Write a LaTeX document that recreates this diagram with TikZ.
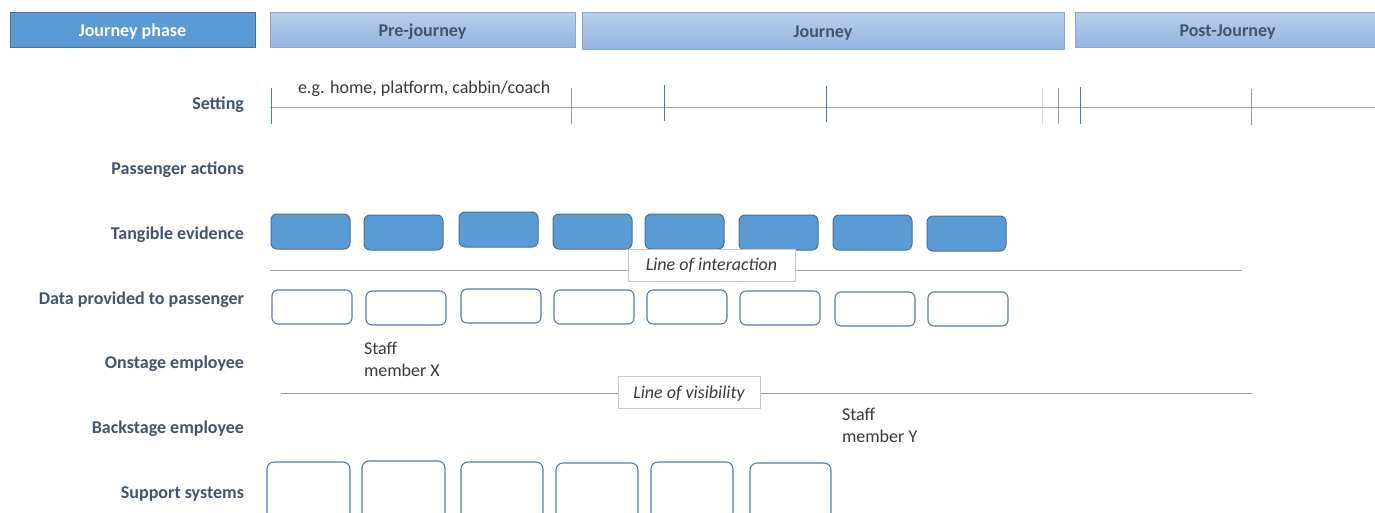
\documentclass[tikz,border=0pt]{standalone}
\usepackage{fontspec}
\setmainfont{Carlito}
\begin{document}
\begin{tikzpicture}[x=1pt,y=-1pt,
  every node/.style={inner sep=0pt, outer sep=0pt},
  phasebox/.style={draw=phaseborder, line width=0.8pt, top color=phasetop, bottom color=phasebot, anchor=north west, font=\fontsize{18}{21}\selectfont\bfseries, text=slate, text height=15pt, text depth=1pt},
  rowlabel/.style={anchor=east, font=\fontsize{18}{21}\selectfont\bfseries, text=slate, text height=12pt, text depth=3pt},
  tevbox/.style={draw=tevborder, fill=tevfill, line width=1pt, rounded corners=6pt, minimum width=79pt, minimum height=35pt, anchor=north west},
  databox/.style={draw=databorder, fill=white, line width=1.1pt, rounded corners=6pt, minimum width=80pt, minimum height=34pt, anchor=north west},
  supbox/.style={draw=databorder, fill=white, line width=1.1pt, rounded corners=7pt, minimum width=82pt, minimum height=80pt, anchor=north west},
  linelabel/.style={draw=lightgray, fill=white, line width=0.8pt, font=\fontsize{18}{21}\selectfont\itshape, text=darktext, anchor=north west, text height=12pt, text depth=2pt},
  plaintext/.style={font=\fontsize{18}{22}\selectfont, text=darktext, align=left, anchor=north west},
  sepline/.style={draw=linegray, line width=1pt}
]
\definecolor{slate}{HTML}{44546A}
\definecolor{darktext}{HTML}{3B3B3B}
\definecolor{phasetop}{HTML}{B7CFEB}
\definecolor{phasebot}{HTML}{92B5E2}
\definecolor{phaseborder}{HTML}{8FA8C6}
\definecolor{tevfill}{HTML}{5B9BD5}
\definecolor{tevborder}{HTML}{4A6F94}
\definecolor{databorder}{HTML}{5A7CA3}
\definecolor{lightgray}{HTML}{C8C8C8}
\definecolor{linegray}{HTML}{A6A6A6}
\definecolor{tickblue}{HTML}{4F7BB0}
\definecolor{tickgray}{HTML}{9A9A9A}
\definecolor{ticklight}{HTML}{D4D4D4}

\useasboundingbox[fill=white] (0,0) rectangle (1375,512);

% header
\node[draw=tevborder, fill=tevfill, line width=1pt, minimum width=245pt, minimum height=35pt, anchor=north west, font=\fontsize{18}{21}\selectfont\bfseries, text=white, text height=15pt, text depth=1pt] (jp) at (10,12) {Journey phase};
\node[phasebox, minimum width=305pt, minimum height=35pt] (pre) at (270,12) {Pre-journey};
\node[phasebox, minimum width=482pt, minimum height=37pt] (jour) at (582,12) {Journey};
\node[phasebox, minimum width=305pt, minimum height=35pt] (post) at (1075,12) {Post-Journey};

% row labels
\node[rowlabel] (lset) at (244,105) {Setting};
\node[rowlabel] (lpa) at (244,170) {Passenger actions};
\node[rowlabel] (lte) at (244,235) {Tangible evidence};
\node[rowlabel] (ldp) at (244,300) {Data provided to passenger};
\node[rowlabel] (lon) at (244,364) {Onstage employee};
\node[rowlabel] (lba) at (244,429) {Backstage employee};
\node[rowlabel] (lsu) at (244,494) {Support systems};

% setting line and ticks
\coordinate (s0) at (270,107);
\coordinate (s1) at (1375,107);
\draw[sepline] (s0) -- (s1);
\foreach \x/\a/\b/\c in {271/88/124/tickblue, 571/88/124/tickgray, 664/85/121/tickblue, 826/86/122/tickblue, 1042/88/124/ticklight, 1058/88/124/tickgray, 1080/87/124/tickblue, 1251/89/125/tickgray}{
  \coordinate (ta\x) at (\x,\a);
  \coordinate (tb\x) at (\x,\b);
  \draw[draw=\c, line width=1pt] (ta\x) -- (tb\x);
}
\node[plaintext] (eg) at (298,81) {e.g. home, platform, cabbin/coach};

% tangible evidence
\node[tevbox] (t1) at (271,214) {};
\node[tevbox] (t2) at (364,215) {};
\node[tevbox] (t3) at (459,212) {};
\node[tevbox] (t4) at (553,214) {};
\node[tevbox] (t5) at (645,214) {};
\node[tevbox] (t6) at (739,215) {};
\node[tevbox] (t7) at (833,215) {};
\node[tevbox] (t8) at (927,216) {};

% line of interaction
\coordinate (li0) at (270,270);
\coordinate (li1) at (1242,270);
\draw[sepline] (li0) -- (li1);
\node[linelabel, minimum width=167pt, minimum height=32pt] (loi) at (628,249) {Line of interaction};

% data provided
\node[databox] (d1) at (272,290) {};
\node[databox] (d2) at (366,291) {};
\node[databox] (d3) at (461,289) {};
\node[databox] (d4) at (554,290) {};
\node[databox] (d5) at (647,290) {};
\node[databox] (d6) at (740,291) {};
\node[databox] (d7) at (835,292) {};
\node[databox] (d8) at (928,292) {};

% staff
\node[plaintext] (sx) at (364,342) {Staff\\member X};
\node[plaintext] (sy) at (842,408) {Staff\\member Y};

% line of visibility
\coordinate (lv0) at (281,393);
\coordinate (lv1) at (1252,393);
\draw[sepline, draw=tickgray] (lv0) -- (lv1);
\node[linelabel, minimum width=142pt, minimum height=32pt, text height=14pt] (lov) at (618,376) {Line of visibility};

% support systems
\node[supbox, minimum width=83pt] (u1) at (267,462) {};
\node[supbox, minimum width=83pt] (u2) at (362,461) {};
\node[supbox] (u3) at (461,462) {};
\node[supbox] (u4) at (556,463) {};
\node[supbox] (u5) at (651,462) {};
\node[supbox, minimum width=81pt] (u6) at (750,463) {};
\end{tikzpicture}
\end{document}
